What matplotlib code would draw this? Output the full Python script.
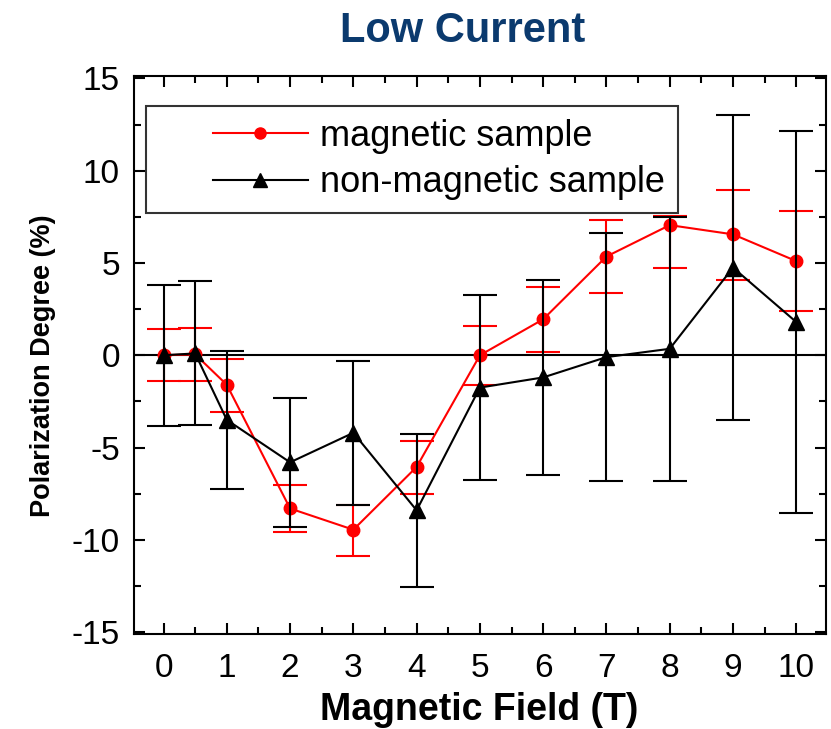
import matplotlib.pyplot as plt
from matplotlib.ticker import MultipleLocator
from matplotlib.lines import Line2D
from matplotlib.legend_handler import HandlerLine2D

plt.rcParams['font.family'] = ['Liberation Sans', 'DejaVu Sans']
plt.rcParams['axes.unicode_minus'] = False

field = [0, 0.5, 1, 2, 3, 4, 5, 6, 7, 8, 9, 10]

# magnetic sample (red)
mag_pol = [0.0, 0.05, -1.6, -8.3, -9.45, -6.05, 0.0, 1.95, 5.35, 7.05, 6.55, 5.1]
mag_err_lo = [1.4, 1.45, 1.45, 1.3, 1.4, 1.45, 1.6, 1.75, 2.0, 2.3, 2.45, 2.7]
mag_err_hi = [1.4, 1.45, 1.4, 1.25, 1.35, 1.4, 1.6, 1.75, 2.0, 0.5, 2.4, 2.7]

# non-magnetic sample (black)
non_pol = [0.0, 0.1, -3.5, -5.8, -4.2, -8.4, -1.75, -1.2, -0.1, 0.35, 4.75, 1.8]
non_err = [3.83, 3.9, 3.75, 3.5, 3.9, 4.15, 5.0, 5.3, 6.7, 7.15, 8.25, 10.35]

fig = plt.figure(figsize=(8.31, 7.29), dpi=100)
ax = fig.add_axes([0.161, 0.1303, 0.833, 0.766])

ax.axhline(0, color='black', lw=1.5, zorder=1)

ax.errorbar(field, mag_pol, yerr=[mag_err_lo, mag_err_hi], color='red', lw=1.5,
            marker='o', markersize=9, elinewidth=1.5, capsize=12, capthick=1.5,
            zorder=3)
ax.errorbar(field, non_pol, yerr=non_err, color='black', lw=1.5,
            marker='^', markersize=11, elinewidth=1.5, capsize=12, capthick=1.5,
            zorder=4)

ax.set_xlim(-0.47, 10.47)
ax.set_ylim(-15.1, 15.15)
ax.set_xticks(range(0, 11))
ax.set_yticks([-15, -10, -5, 0, 5, 10, 15])
ax.xaxis.set_minor_locator(MultipleLocator(0.5))
ax.yaxis.set_minor_locator(MultipleLocator(2.5))
ax.tick_params(which='both', direction='in', top=True, right=True, width=1.5,
               labelsize=24)
ax.tick_params(which='major', length=8)
ax.tick_params(which='minor', length=5)
ax.tick_params(axis='x', pad=14)
ax.tick_params(axis='y', pad=10)
for s in ax.spines.values():
    s.set_linewidth(1.5)

ax.set_xlabel('Magnetic Field (T)', fontsize=27, fontweight='bold')
ax.xaxis.set_label_coords(0.4993, -0.154)
ax.xaxis.label.set_verticalalignment('baseline')
ax.set_ylabel('Polarization Degree (%)', fontsize=19.5, fontweight='bold')
ax.yaxis.set_label_coords(-0.112, 0.481)
fig.text(463 / 831, 0.9428, 'Low Current', fontsize=30, fontweight='bold',
         color='#0B3A6E', ha='center', va='baseline')

handles = [Line2D([], [], color='red', lw=1.5, marker='o', markersize=8),
           Line2D([], [], color='black', lw=1.5, marker='^', markersize=10)]
leg = ax.legend(handles, ['magnetic sample', 'non-magnetic sample'],
                loc='upper left', bbox_to_anchor=(0.0173, 0.9457), borderaxespad=0,
                fontsize=26, frameon=True, fancybox=False, handlelength=4.15,
                borderpad=0.35, labelspacing=0.33, handletextpad=0.33,
                numpoints=1, handler_map={Line2D: HandlerLine2D(xpad=1.5)})
leg.get_frame().set_edgecolor('black')
leg.get_frame().set_linewidth(1.5)

fig.savefig('out.png', dpi=100)
